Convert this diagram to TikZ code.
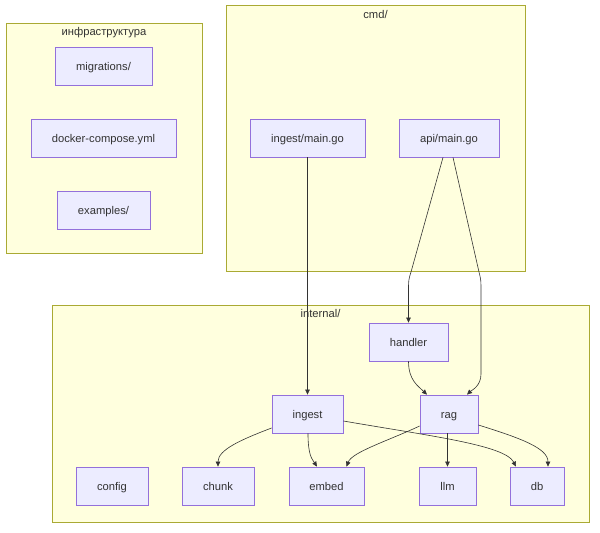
\documentclass[tikz,border=0pt]{standalone}
\usepackage{fontspec}
\setmainfont{Liberation Sans}
\usetikzlibrary{arrows.meta,calc}
\definecolor{clfill}{HTML}{FFFFDE}
\definecolor{clline}{HTML}{AAAA33}
\definecolor{ndfill}{HTML}{ECECFF}
\definecolor{ndline}{HTML}{9370DB}
\definecolor{txt}{HTML}{333333}
\begin{document}
\begin{tikzpicture}[x=1pt,y=-1pt,
  cluster/.style={draw=clline, fill=clfill, line width=0.8pt, inner sep=0pt},
  box/.style={draw=ndline, fill=ndfill, line width=0.8pt, text=txt, inner sep=0pt,
    minimum height=38pt, text height=11.5pt, text depth=2.4pt, font=\fontsize{11.2}{13}\selectfont},
  lbl/.style={text=txt, inner sep=0pt, text height=11.5pt, text depth=2.4pt, font=\fontsize{11.2}{13}\selectfont},
  edge/.style={draw=txt, line width=0.6pt, -{Triangle[length=5pt,width=4.5pt]}}]
\useasboundingbox (0,0) rectangle (600,533);
% clusters
\node[cluster, minimum width=196pt, minimum height=230pt] (infra) at (104,138) {};
\node[cluster, minimum width=299pt, minimum height=266pt] (cmd) at (375.5,138) {};
\node[cluster, minimum width=537pt, minimum height=217pt] (internal) at (320.5,413.5) {};
\node[lbl] (infralbl) at (104,31) {инфраструктура};
\node[lbl] (cmdlbl) at (375.5,14) {cmd/};
\node[lbl] (intlbl) at (320.5,313) {internal/};
% nodes
\node[box, minimum width=97pt] (mig) at (103.5,66) {migrations/};
\node[box, minimum width=145pt] (docker) at (103.5,138) {docker-compose.yml};
\node[box, minimum width=93pt] (examples) at (103.5,210) {examples/};
\node[box, minimum width=115pt] (ingestmain) at (307.5,138) {ingest/main.go};
\node[box, minimum width=100pt] (apimain) at (449,138) {api/main.go};
\node[box, minimum width=79pt] (handler) at (408.5,342) {handler};
\node[box, minimum width=71pt] (ingest) at (307.5,414) {ingest};
\node[box, minimum width=58pt] (rag) at (449,414) {rag};
\node[box, minimum width=72pt] (config) at (112,486) {config};
\node[box, minimum width=72pt] (chunk) at (218,486) {chunk};
\node[box, minimum width=75pt] (embed) at (326.5,486) {embed};
\node[box, minimum width=57pt] (llm) at (447.5,486) {llm};
\node[box, minimum width=54pt] (db) at (537,486) {db};
% edges
\draw[edge] (ingestmain.south) -- (ingest.north);
\draw[edge] ($(apimain.south)+(-6,0)$) -- (411,272) .. controls (408.5,280) .. (408.5,292) -- (handler.north);
\draw[edge] ($(apimain.south)+(4,0)$) -- (479,272) .. controls (481,280) .. (481,292) -- (481,374) .. controls (481,386) and (472,390) .. ($(rag.north)+(18,0)$);
\draw[edge] (handler.south) .. controls (408.5,380) and (418,386) .. ($(rag.north)+(-22,0)$);
\draw[edge] ($(ingest.west)+(0,14)$) .. controls (240,440) and (218,450) .. (chunk.north);
\draw[edge] ($(ingest.south)+(0.5,0)$) .. controls (308,455) and (312,459) .. ($(embed.north)+(-9.5,0)$);
\draw[edge] ($(ingest.east)+(0,7)$) .. controls (430,436) and (505,445) .. ($(db.north)+(-21,0)$);
\draw[edge] ($(rag.west)+(0,12)$) .. controls (390,440) and (352,452) .. ($(embed.north)+(20,0)$);
\draw[edge] (llm.north |- rag.south) -- (llm.north);
\draw[edge] ($(rag.east)+(0,11)$) .. controls (520,438) and (548,448) .. ($(db.north)+(11,0)$);
\end{tikzpicture}
\end{document}
